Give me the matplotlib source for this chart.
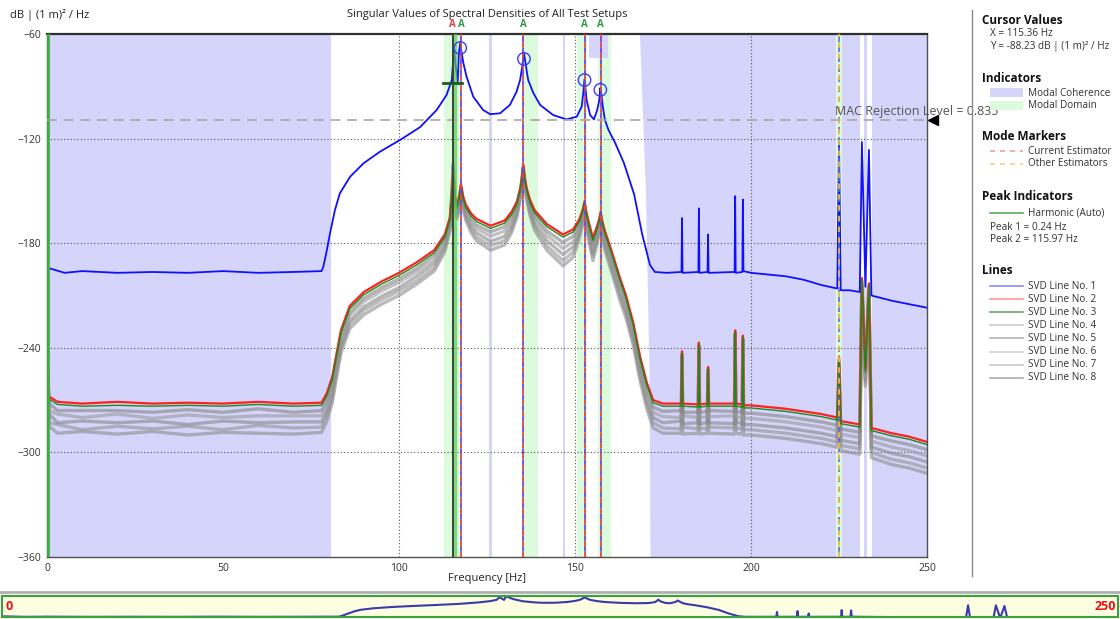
import matplotlib
matplotlib.use("Agg")
import matplotlib.pyplot as plt
from matplotlib.lines import Line2D
from matplotlib.patches import Rectangle

plt.rcParams['font.family'] = ['Open Sans', 'DejaVu Sans']

#### data

## SVD line no. 1 (blue), frequency [Hz] and level [dB]
freq1 = [0, 5, 10, 20, 30, 40, 50, 60, 70, 78,
         78.5, 79.5, 80.4, 81.8, 83.2, 86.1, 89.9, 94.6, 100.3, 106,
         110.7, 113.5, 115.0, 115.4, 115.6, 115.9, 116.7, 117.0, 117.4, 117.8,
         118.3, 119.2, 121.1, 123.9, 125.9, 128.7, 131.5, 133.4, 134.4, 135.0,
         135.5, 136.1, 136.7, 138.2, 140.1, 143.8, 147.6, 150.5, 151.9, 152.4,
         152.7, 153.0, 153.3, 154.3, 155.4, 156.3, 156.9, 157.2, 157.5, 157.9,
         158.5, 159.5, 161.3, 163.9, 166.8, 169.1, 171.3, 172.7, 176, 180.25,
         180.4, 180.55, 185.05, 185.2, 185.35, 187.65, 187.8, 187.95, 195.35, 195.5,
         195.65, 197.55, 197.7, 197.85, 200, 210, 215, 220, 224.5, 225,
         225.5, 228, 230.9, 231.5, 232.5, 233.5, 234.2, 240, 245, 250]
svd1 = [-194, -197, -196, -197, -196.5, -197, -196, -197, -196.5, -196,
        -193.5, -184, -174.3, -161, -151.4, -141.9, -134.2, -127.5, -120.8, -113.4,
        -103.6, -95, -86.4, -74.9, -67, -75, -87.3, -71, -65, -71,
        -76.8, -84.5, -96, -103.6, -106, -105.5, -100.7, -93.1, -86.4, -78.8,
        -71, -78.8, -86.4, -94, -100.7, -106.5, -109, -107.4, -101.7, -93,
        -86, -92, -97.9, -106.5, -109, -103.6, -97.9, -91, -95, -101.7,
        -109.3, -115, -122, -134, -152, -175, -192.5, -196.5, -197, -196.5,
        -165.6, -197, -196.5, -160, -197, -196.5, -175, -197, -196.5, -153,
        -197, -196.5, -155, -196, -197, -199, -201, -204, -206, -122,
        -207, -207, -208, -122, -205, -126.5, -210, -213, -215, -217]

## SVD lines no. 2..8 share one frequency grid
freq = [0, 0.6, 3, 10, 20, 30, 40, 50, 60, 70,
        78, 79.5, 81, 82, 83.5, 86, 90, 95, 100, 105,
        110, 113, 114.5, 115.0, 115.4, 115.8, 116.5, 117.2, 117.6, 118.2,
        119, 120.5, 122, 126, 130, 132, 133.5, 134.5, 135.0, 135.3,
        135.6, 136.2, 137.2, 138.5, 142, 146.6, 149.5, 151.3, 152.3, 152.7,
        153.1, 153.8, 155.1, 156.3, 156.9, 157.3, 157.7, 158.5, 160, 162.8,
        164.5, 166.6, 168.5, 170.4, 172.2, 175, 180.2, 180.4, 180.6, 185.0,
        185.2, 185.4, 187.6, 187.8, 188.0, 195.3, 195.5, 195.7, 197.5, 197.7,
        197.9, 200, 210, 220, 224.5, 225, 225.5, 230.9, 231.5, 232.5,
        233.5, 234.2, 240, 245, 250]
svd2 = [-238, -268, -271, -272, -271, -272, -271.5, -272, -271, -272,
        -271.5, -266, -257, -246, -230, -216, -208, -202, -197, -191,
        -184, -175, -165, -152, -139, -152, -158, -152, -146, -153,
        -158, -163, -166, -170, -167, -162, -156, -148, -141, -135,
        -141, -148, -155, -161, -169, -175, -172, -166, -160, -156,
        -161, -167, -177, -170, -166, -162, -167, -173, -182, -200,
        -210, -226, -245, -260, -270, -272, -272, -242, -272, -272.5,
        -237, -272.5, -272, -251, -272, -272, -230, -272, -272.5, -233,
        -273, -273, -275, -278, -280, -245, -282, -284, -200, -252,
        -203, -286, -289, -291, -294]
svd3 = [-239, -269.5, -272.5, -273.5, -273, -273.5, -273, -273.5, -272.5, -273.5,
        -273, -267.5, -258.5, -247.5, -231.5, -217.5, -209.5, -203.5, -198.5, -192.5,
        -185.5, -176.5, -166.5, -153, -140, -153, -159.5, -153, -147, -154.5,
        -159.5, -164.5, -167.5, -171.5, -168.5, -163.5, -157.5, -149, -142, -136,
        -142, -149, -156.5, -162.5, -170.5, -176.5, -173.5, -167.5, -161, -157,
        -162, -168.5, -178.5, -171.5, -167, -163, -168, -174.5, -183.5, -201.5,
        -211.5, -227.5, -246.5, -261.5, -271.5, -273.5, -273.5, -243, -273.5, -274,
        -238, -274, -273.5, -252, -273.5, -273.5, -231, -273.5, -274, -234,
        -274.5, -274.5, -276.5, -279.5, -281.5, -246, -283.5, -285.5, -201, -253.5,
        -204, -287.5, -290.5, -292.5, -295.5]
svd4 = [-240, -272, -276, -276, -276, -277, -275.5, -277, -275, -277,
        -276, -270, -261, -249.5, -233.5, -219.5, -211.5, -205.5, -200.5, -194.5,
        -187, -177.5, -167, -153.5, -136, -153.5, -160, -153.5, -147.5, -155,
        -160.5, -166, -169.5, -173.5, -170.5, -165, -158.5, -149.5, -142, -136,
        -142, -149.5, -157.5, -164, -173, -179.5, -176, -169, -162, -157.5,
        -163, -169.5, -180.5, -172.5, -168, -164, -169.5, -176, -185, -203.5,
        -213.5, -229.5, -248.5, -264, -274, -276.5, -276, -243.5, -277, -277,
        -238.5, -277, -276.5, -252.5, -276, -276.5, -231.5, -276.5, -277, -234.5,
        -277.5, -277.5, -279.5, -282.5, -284.5, -247, -286.5, -288.5, -201.5, -254.5,
        -204.5, -290.5, -293.5, -295.5, -298.5]
svd5 = [-241.5, -276, -278, -280, -278, -280.5, -278.5, -280, -279, -279,
        -279, -273, -263.5, -252, -235.5, -221.5, -213.5, -207.5, -202.5, -196.5,
        -189.5, -179.5, -168.5, -154, -134, -154.5, -161.5, -154.5, -148, -156,
        -162, -168, -171.5, -176, -173, -167.5, -160, -150.5, -143, -136.5,
        -143, -150.5, -159, -166, -175.5, -183, -179, -171, -163.5, -158.5,
        -164.5, -171.5, -182.5, -174.5, -169.5, -165, -171, -178, -187.5, -205.5,
        -215.5, -231.5, -251, -266.5, -277, -279.5, -280, -244, -279, -280,
        -239, -280, -279.5, -253, -279.5, -279, -232, -280, -279.5, -235,
        -280.5, -280.5, -282.5, -285.5, -287.5, -248.5, -289.5, -291.5, -202.5, -256.5,
        -205.5, -293.5, -297, -299, -302]
svd6 = [-243, -278, -283, -282, -283, -282, -284, -282, -283, -282.5,
        -282.5, -276, -266.5, -255, -238.5, -224.5, -216.5, -210.5, -205.5, -199,
        -191.5, -181.5, -170, -155, -140, -156, -163, -156, -149, -157.5,
        -164, -170, -174, -179, -176, -169.5, -162, -152, -144, -137,
        -144, -152, -161, -168.5, -178.5, -186.5, -182, -173, -165, -160,
        -166, -173.5, -185.5, -176.5, -171, -166.5, -173, -180, -189.5, -208.5,
        -218.5, -234.5, -254, -269.5, -280, -283, -282, -245, -283.5, -283,
        -240, -283.5, -283, -254, -283, -283.5, -233, -282.5, -283.5, -236,
        -284, -284, -286, -289, -291, -250, -293, -295, -204, -258.5,
        -207, -297, -300.5, -302.5, -305.5]
svd7 = [-244, -283, -284, -287, -285, -286.5, -285, -287, -284.5, -286,
        -285.5, -279, -269.5, -257.5, -240.5, -226.5, -218.5, -212.5, -207.5, -201.5,
        -194, -183, -171, -156, -142, -157, -164.5, -157, -150, -158.5,
        -165.5, -172, -176.5, -181.5, -178.5, -172, -163.5, -153, -144.5, -137.5,
        -144.5, -153, -162.5, -170.5, -181.5, -190, -185, -175, -166.5, -161,
        -167.5, -175, -187.5, -178, -172.5, -167.5, -174.5, -182, -192, -210.5,
        -220.5, -236.5, -256.5, -272.5, -283, -286, -286.5, -246, -285.5, -286.5,
        -241, -286, -286.5, -255, -285.5, -286, -234, -286.5, -286, -237,
        -287, -287, -289, -292, -294, -251, -296, -298, -205, -260,
        -208, -300, -304, -306, -309]
svd8 = [-245.5, -285, -289, -288, -289.5, -288, -290, -288.5, -289, -289.5,
        -288.5, -282, -272, -260, -243, -229, -221, -215, -210, -203.5,
        -196, -185, -172.5, -157, -145, -158, -166, -158, -151, -160,
        -167, -174, -178.5, -184, -181, -174, -165, -154, -145.5, -138,
        -145.5, -154, -164, -172.5, -184, -193, -188, -177, -168, -162,
        -169, -177, -190, -180, -174, -169, -176, -184, -194, -213,
        -223, -239, -259, -275, -286, -289, -289, -247, -289.5, -289,
        -242, -289.5, -289, -256, -289, -289.5, -235, -289, -289.5, -238,
        -290, -290, -292, -295, -297, -252.5, -299, -301, -206, -262,
        -209, -303, -307, -309, -312]

## indicators
coherence_bands = [(0, 80.6), (125.6, 126.4), (146.6, 147.2),
                   (225.8, 230.9), (232.0, 233.0), (234.4, 250)]
coherence_edge_db = [-360, -250, -150, -60]
coherence_edge_hz = [171.3, 171.0, 170.0, 168.3]
coherence_edge_end = 224.2
domain_bands = [(112.8, 117.2), (135.0, 139.5), (150.5, 153.5), (156.5, 160.2), (224.2, 225.8)]
mac_level = 0.835

current_modes = [115.3, 117.6, 135.3, 152.7, 157.3]
mode_letter_colors = ['#e8413c', '#2f9a45', '#2f9a45', '#2f9a45', '#2f9a45']
other_modes = [225.0]
peak_hz = [117.4, 135.5, 152.7, 157.2]
peak_db = [-68, -74.3, -86.4, -92]

cursor_x = 115.36
cursor_y = -88.23
harmonic_hz = [0.24, 115.97]

line_names = ['SVD Line No. %d' % i for i in range(1, 9)]

################

W, H = 1120, 619
fig = plt.figure(figsize=(W / 100, H / 100), dpi=100)
fig.patch.set_facecolor('white')

def px(x, y):
    return x / W, 1 - y / H

ax = fig.add_axes([47 / W, 1 - 557 / H, 880 / W, 523 / H])
ax.set_xlim(0, 250)
ax.set_ylim(-360, -60)

lav = '#d5d5fc'
mint = '#dcfadc'
for a, b in coherence_bands:
    ax.axvspan(a, b, color=lav, lw=0, zorder=0.5)
ax.fill_betweenx(coherence_edge_db, coherence_edge_hz, coherence_edge_end, color=lav, lw=0, zorder=0.5)
for a, b in domain_bands:
    ax.axvspan(a, b, color=mint, lw=0, zorder=0.6)
ax.axvspan(154, 159.5, ymin=0.955, ymax=1, color=lav, lw=0, zorder=0.7)

# grid
for yv in [-120, -180, -240, -300]:
    ax.axhline(yv, color='#555555', lw=0.8, ls=(0, (1, 2)), zorder=1.5)
for xv in [100, 150, 200]:
    ax.axvline(xv, color='#555555', lw=0.8, ls=(0, (1, 2)), zorder=1.5)

# SVD lines
grays = [svd8, svd7, svd6, svd5, svd4]
gcols = ['#8c8c8c', '#939393', '#888888', '#9a9a9a', '#858585']
for g, c in zip(grays, gcols):
    ax.plot(freq, g, color=c, lw=2.4, alpha=0.6, zorder=2)
ax.plot(freq, svd2, color='#ff2020', lw=1.6, zorder=2.2)
ax.plot(freq, svd3, color='#1a8a1a', lw=1.0, zorder=2.3)
ax.plot(freq1, svd1, color='#1010ff', lw=1.3, zorder=2.5)

# harmonic peak indicators
ax.axvline(harmonic_hz[0], color='#3cb043', lw=2, zorder=2.6)
ax.axvline(harmonic_hz[1], color='#5ac85a', lw=2.5, alpha=0.7, zorder=2.6)

# mode markers
for f in current_modes:
    ax.axvline(f, color='#6a4ad8', lw=1.3, ls=(3, (3, 3)), zorder=3)
    ax.axvline(f, color='#e04545', lw=1.3, ls=(0, (3, 3)), zorder=3)
for f in other_modes:
    ax.axvline(f, color='#5a6ae0', lw=1.2, ls=(3, (3, 3)), zorder=3)
    ax.axvline(f, color='#f0b44a', lw=1.3, ls=(0, (3, 3)), zorder=3)
for f, c in zip(current_modes, mode_letter_colors):
    ax.text(f, -57.5, 'A', color=c, fontsize=7, fontweight='bold', ha='center', va='bottom', clip_on=False)

ax.scatter(peak_hz, peak_db, s=80, facecolors='none', edgecolors='#3a3aff', lw=1.0, zorder=4)

# cursor
ax.axvline(cursor_x, color='#1f4a1f', lw=1.2, zorder=3.2)
ax.plot([cursor_x - 3.0, cursor_x + 2.5], [cursor_y, cursor_y], color='#1f5a1f', lw=2, zorder=3.2)

# MAC rejection level on the coherence scale
mac_db = -360 + mac_level * 300
ax.axhline(mac_db, color='#a8a8a8', lw=1.2, ls=(0, (6, 4)), zorder=3)
ax.text(224.0, mac_db + 1.5, 'MAC Rejection Level = %.3f' % mac_level, color='#555555',
        fontsize=9, ha='left', va='bottom', clip_on=False, zorder=5)
ax.plot([251.8], [mac_db], marker='<', color='black', ms=7, clip_on=False, zorder=5)

ax.set_xticks([0, 50, 100, 150, 200, 250])
ax.set_yticks([-360, -300, -240, -180, -120, -60])
ax.tick_params(length=0, labelsize=7.5, labelcolor='#333333', pad=4)
for s in ['left', 'right', 'bottom']:
    ax.spines[s].set_color('#505050')
    ax.spines[s].set_linewidth(1)
ax.spines['top'].set_color('#303030')
ax.spines['top'].set_linewidth(1.6)

fig.text(*px(487, 15), 'Singular Values of Spectral Densities of All Test Setups',
         fontsize=8, ha='center', va='center', color='#222222')
fig.text(*px(10, 15), 'dB | (1 m)² / Hz', fontsize=8, ha='left', va='center', color='#222222')
fig.text(*px(487, 578), 'Frequency [Hz]', fontsize=8, ha='center', va='center', color='#222222')

# right info panel
fig.add_artist(Line2D([972 / W, 972 / W], [1 - 10 / H, 1 - 576 / H], color='#8a8a8a', lw=1))

def head(y, s):
    fig.text(*px(982, y), s, fontsize=8.5, fontweight='bold', ha='left', va='center', color='#111111')

def item(x, y, s):
    fig.text(*px(x, y), s, fontsize=7.2, ha='left', va='center', color='#333333')

def sample_line(y, color, ls='-', lw=1.2):
    fig.add_artist(Line2D([990 / W, 1023 / W], [1 - y / H, 1 - y / H], color=color, ls=ls, lw=lw))

head(20, 'Cursor Values')
item(990, 33, 'X = %.2f Hz' % cursor_x)
item(990, 46, 'Y = %.2f dB | (1 m)² / Hz' % cursor_y)

head(78, 'Indicators')
fig.add_artist(Rectangle(px(990, 97), 33 / W, 9 / H, color=lav, lw=0))
item(1028, 93, 'Modal Coherence')
fig.add_artist(Rectangle(px(990, 110), 33 / W, 9 / H, color=mint, lw=0))
item(1028, 106, 'Modal Domain')

head(137, 'Mode Markers')
sample_line(151, '#f4a0a0', ls=(0, (3, 3)))
item(1028, 151, 'Current Estimator')
sample_line(164, '#f4d090', ls=(0, (3, 3)))
item(1028, 164, 'Other Estimators')

head(196, 'Peak Indicators')
sample_line(213, '#5aa85a')
item(1028, 213, 'Harmonic (Auto)')
item(990, 227, 'Peak 1 = %.2f Hz' % harmonic_hz[0])
item(990, 240, 'Peak 2 = %.2f Hz' % harmonic_hz[1])

head(271, 'Lines')
sample_cols = ['#8a8aff', '#ff9a9a', '#6aaa6a', '#cccccc', '#b4b4b4', '#d2d2d2', '#c8c8c8', '#ababab']
for i, (name, c) in enumerate(zip(line_names, sample_cols)):
    y = 286 + i * 13.1
    sample_line(y, c)
    item(1028, y, name)

# overview strip
fig.add_artist(Line2D([0, 1], [1 - 592 / H, 1 - 592 / H], color='#b0b0b0', lw=2))
ax2 = fig.add_axes([2 / W, 1 - 617 / H, 1116 / W, 21 / H])
ax2.set_facecolor('#fdfde1')
ax2.plot(freq1, svd1, color='#3a3aaa', lw=1.5)
ax2.set_xlim(-0.5, 260)
ax2.set_ylim(-198, -62)
ax2.set_xticks([])
ax2.set_yticks([])
for s in ax2.spines.values():
    s.set_color('#3ca03c')
    s.set_linewidth(1.5)
fig.text(*px(6, 607), '0', color='#ee1111', fontsize=9, fontweight='bold', ha='left', va='center')
fig.text(*px(1116, 607), '250', color='#ee1111', fontsize=9, fontweight='bold', ha='right', va='center')

fig.savefig('out.png', dpi=100)
